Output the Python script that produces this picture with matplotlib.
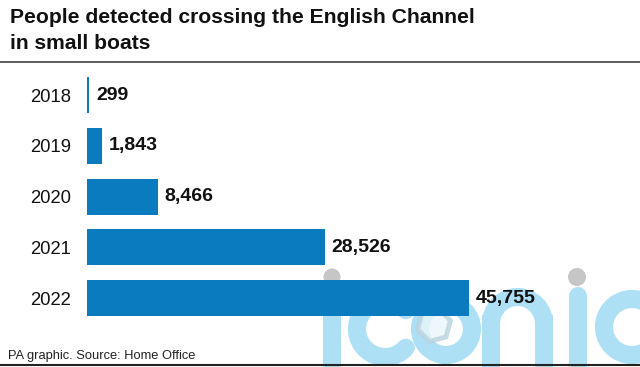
import matplotlib
matplotlib.use("Agg")
import matplotlib.pyplot as plt
from matplotlib.lines import Line2D
from matplotlib.patches import Arc, Circle, RegularPolygon

years = ["2018", "2019", "2020", "2021", "2022"]
crossings = [299, 1843, 8466, 28526, 45755]

title_lines = ["People detected crossing the English Channel", "in small boats"]
footer = "PA graphic. Source: Home Office"

BAR = "#0b7bbf"
FONT = ["Liberation Sans", "DejaVu Sans"]
plt.rcParams["font.family"] = FONT

W, H = 640, 367
fig = plt.figure(figsize=(W / 100, H / 100), dpi=100)
fig.patch.set_facecolor("white")

# background watermark layer (pixel coordinates)
bg = fig.add_axes([0, 0, 1, 1], zorder=0)
bg.set_xlim(0, W)
bg.set_ylim(H, 0)
bg.axis("off")
wb = "#ade0f5"
wg = "#c6c6c6"
sw = 13.0
def stem(x, y0):
    bg.add_line(Line2D([x, x], [y0, 420], color=wb, lw=sw, solid_capstyle="round"))
stem(332, 296)
bg.add_patch(Circle((332, 277), 8.5, color=wg, lw=0))
bg.add_patch(Arc((385, 329), 56, 56, theta1=42, theta2=318, color=wb, lw=sw, capstyle="round"))
bg.add_patch(Circle((446, 329), 26, fill=False, edgecolor=wb, lw=sw))
bg.add_patch(RegularPolygon((434, 325), 6, radius=17, orientation=0.26,
                            facecolor="#eaf6fb", edgecolor="#b9d3de", lw=3.5, alpha=0.8))
bg.add_line(Line2D([491, 491], [323.5, 420], color=wb, lw=sw))
bg.add_patch(Arc((517.5, 323.5), 53, 53, theta1=180, theta2=360, color=wb, lw=sw))
bg.add_line(Line2D([544, 544], [323.5, 420], color=wb, lw=sw))
stem(578, 296)
bg.add_patch(Circle((577, 277), 9, color=wg, lw=0))
bg.add_patch(Arc((632, 327), 56, 56, theta1=42, theta2=318, color=wb, lw=sw, capstyle="round"))

# main chart
ax = fig.add_axes([87 / W, 0.1188, 417.5 / W, 0.6914], zorder=1)
ax.patch.set_visible(False)
pos = list(range(len(years)))
ax.barh(pos, crossings, height=0.71, color=BAR, zorder=2)
ax.set_xlim(0, 50000)
ax.set_ylim(4.5, -0.5)
ax.set_yticks(pos, years)
ax.tick_params(axis="y", length=0, pad=11.5, labelsize=13.3, labelcolor="#111111")
ax.set_xticks([])
for s in ax.spines.values():
    s.set_visible(False)
for p, v in zip(pos, crossings):
    ax.annotate(f"{v:,}", xy=(v, p), xytext=(4.6, 0), textcoords="offset points",
                va="center", ha="left", fontsize=14, fontweight="bold", color="#111111")

# titles and rules
fig.text(10 / W, 1 - 23 / H, title_lines[0], fontsize=15.2, fontweight="bold",
         va="baseline", ha="left", color="#111111")
fig.text(10 / W, 1 - 49 / H, title_lines[1], fontsize=15.2, fontweight="bold",
         va="baseline", ha="left", color="#111111")
fig.add_artist(Line2D([0, 1], [1 - 62 / H] * 2, transform=fig.transFigure, color="#333333", lw=1.1))
fig.add_artist(Line2D([0, 1], [1 - 365 / H] * 2, transform=fig.transFigure, color="#222222", lw=1.5))
fig.text(8 / W, 1 - 359 / H, footer, fontsize=9.3, va="baseline", ha="left", color="#222222")

fig.savefig("out.png", dpi=100, facecolor="white")
